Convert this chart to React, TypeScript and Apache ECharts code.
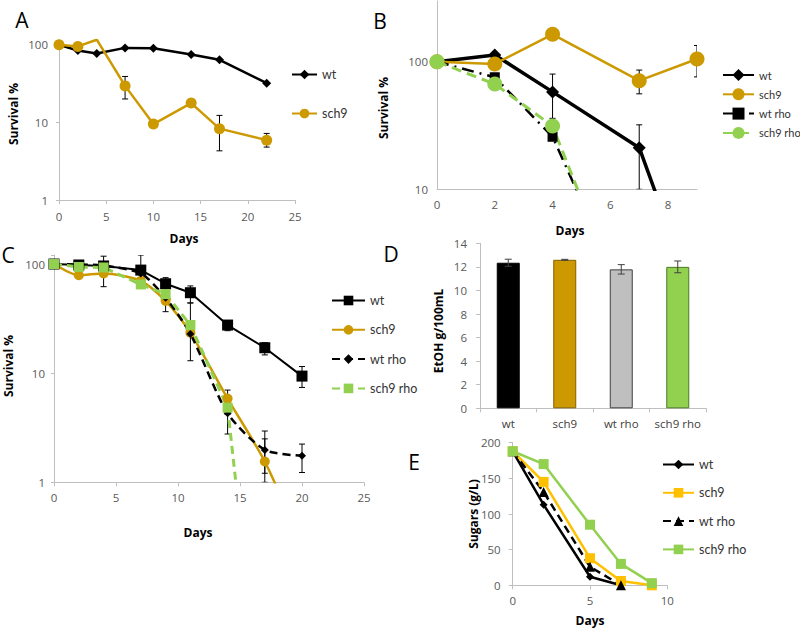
import React, { useEffect, useRef } from "react";
import * as echarts from "echarts";

// ---------- Panel A ----------
const daysA = [0, 2, 4, 7, 10, 14, 17, 22];
const wtA = [100, 84, 77, 91, 90, 75, 64, 32];
const sch9A = [100, 95, 116, 29.5, 9.5, 17.7, 8.3, 5.9];
const sch9AErr = [[2, 90, 101], [7, 20, 39], [17, 4.3, 12.3], [22, 4.8, 7.2]];

// ---------- Panel B ----------
const daysB = [0, 2, 4, 7, 9];
const wtB = [100, 113, 58, 21.2, 1.2];
const sch9B = [100, 96, 164, 71, 105];
const daysRhoB = [0, 2, 4, 7];
const wtRhoB = [100, 75.5, 25.8, 0.8];
const sch9RhoB = [100, 66.8, 31.3, 0.6];
const wtBErr = [[4, 36, 80], [7, 10, 32]];
const sch9BErr = [[7, 56, 86], [9, 76, 134]];
const wtRhoBErr = [[2, 72, 81]];

// ---------- Panel C ----------
const daysC = [0, 2, 4, 7, 9, 11, 14, 17, 20];
const wtC = [100, 98, 96, 88, 66, 54.6, 27.6, 17.1, 9.4];
const sch9C = [100, 79, 82, 70, 46, 23.5, 5.85, 1.55, 0.26];
const wtRhoC = [100, 99, 97, 82, 49, 22.9, 4.3, 1.98, 1.75];
const daysRhoC = [0, 2, 4, 7, 9, 11, 14, 17];
const sch9RhoC = [100, 94, 93, 65, 53, 27.6, 4.83, 0.004];
const wtCErr = [[7, 80, 121], [9, 57, 75], [11, 44, 63], [14, 24.5, 29.6], [17, 14.7, 19], [20, 7.4, 11.5]];
const sch9CErr = [[4, 62, 118], [9, 36.6, 52], [14, 4.2, 7.0], [17, 1.0, 2.5]];
const wtRhoCErr = [[2, 95, 105], [11, 13, 44], [14, 2.77, 5.7], [17, 1.21, 2.95], [20, 1.23, 2.24]];

// ---------- Panel D ----------
const strainsD = ["wt", "sch9", "wt rho", "sch9 rho"];
const etohD = [12.35, 12.6, 11.79, 12.0];
const etohErrD = [0.3, 0.04, 0.4, 0.5];

// ---------- Panel E ----------
const daysE = [0, 2, 5, 7, 9];
const wtE = [188, 113, 12, 0];
const sch9E = [188, 145, 38, 6, 0];
const wtRhoE = [188, 131, 26, 0];
const sch9RhoE = [188, 170, 85, 30, 3];

const GOLD = "#CC9900";
const AMBER = "#FFC000";
const GREEN = "#92D050";
const GRAY = "#BFBFBF";
const AXIS = "#BFBFBF";
const LABEL = "#595959";
const FONT = "'Open Sans', 'Liberation Sans', sans-serif";
const LFONT = "Lato";

const pairs = (xs: number[], ys: number[]) => ys.map((y, i) => [xs[i], y]);

function errSeries(gi: number, data: number[][], color = "#000", cap = 3) {
  return {
    type: "custom",
    xAxisIndex: gi,
    yAxisIndex: gi,
    data,
    clip: true,
    silent: true,
    z: 1,
    encode: { x: 0, y: [1, 2] },
    renderItem: (_p: any, api: any) => {
      const x = api.value(0);
      const lo = api.coord([x, api.value(1)]);
      const hi = api.coord([x, api.value(2)]);
      const style = { stroke: color, lineWidth: 1 };
      return {
        type: "group",
        children: [
          { type: "line", shape: { x1: lo[0], y1: lo[1], x2: hi[0], y2: hi[1] }, style },
          { type: "line", shape: { x1: lo[0] - cap, y1: lo[1], x2: lo[0] + cap, y2: lo[1] }, style },
          { type: "line", shape: { x1: hi[0] - cap, y1: hi[1], x2: hi[0] + cap, y2: hi[1] }, style },
        ],
      };
    },
  };
}

const labelStyle = { color: LABEL, fontFamily: FONT, fontSize: 11.5 };

function valueX(gi: number, min: number, max: number, interval: number, margin: number, showTick = true, extra: any = {}) {
  return {
    type: "value",
    gridIndex: gi,
    min,
    max,
    interval,
    splitLine: { show: false },
    axisLine: { show: true, lineStyle: { color: AXIS, width: 1 } },
    axisTick: { show: showTick, length: 4, lineStyle: { color: AXIS } },
    axisLabel: { ...labelStyle, margin },
    ...extra,
  };
}

function logY(gi: number, min: number, max: number, margin: number, showTick = true) {
  return {
    type: "log",
    logBase: 10,
    gridIndex: gi,
    min,
    max,
    splitLine: { show: false },
    axisLine: { show: true, lineStyle: { color: AXIS, width: 1 } },
    axisTick: { show: showTick, length: 3, lineStyle: { color: AXIS } },
    axisLabel: {
      ...labelStyle,
      margin,
      formatter: (v: number) => {
        const l = Math.log10(v);
        return Math.abs(l - Math.round(l)) < 1e-6 ? String(Math.round(v)) : "";
      },
    },
  };
}

function line(name: string, gi: number, data: number[][], color: string, width: number, symbol: string, size: number, extra: any = {}) {
  return {
    type: "line",
    name,
    xAxisIndex: gi,
    yAxisIndex: gi,
    data,
    clip: true,
    symbol,
    symbolSize: size,
    itemStyle: { color },
    lineStyle: { color, width, type: "solid" },
    z: 3,
    ...extra,
  };
}

const legendText = { color: "#333", fontFamily: LFONT, fontSize: 12.5 };
const legendFmt = (n: string) => n.split("@")[0];

function title(text: string, x: number, y: number, rotate = false, size = 12, bold = true) {
  return {
    type: "text",
    x,
    y,
    rotation: rotate ? Math.PI / 2 : 0,
    silent: true,
    style: {
      text,
      fill: "#000",
      font: `${bold ? "bold " : ""}${size}px ${FONT}`,
      textAlign: "center",
      textVerticalAlign: "middle",
    },
  };
}

export default function App() {
  const ref = useRef<HTMLDivElement>(null);
  useEffect(() => {
    if (!ref.current) return;
    const chart = echarts.init(ref.current, undefined, { renderer: "svg" });
    const option: any = {
      animation: false,
      backgroundColor: "#fff",
      grid: [
        { left: 59, top: 40, width: 236, height: 160 },
        { left: 437, top: 1, width: 260, height: 188.3 },
        { left: 54, top: 255, width: 310, height: 227.3 },
        { left: 480, top: 243.3, width: 226, height: 165 },
        { left: 512.7, top: 442.7, width: 154.6, height: 142.6 },
      ],
      xAxis: [
        valueX(0, 0, 25, 5, 10),
        valueX(1, 0, 9, 2, 9, false, { axisLabel: { ...labelStyle, margin: 9, showMaxLabel: false } }),
        valueX(2, 0, 25, 5, 9),
        {
          type: "category",
          gridIndex: 3,
          data: strainsD,
          axisLine: { show: true, lineStyle: { color: AXIS } },
          axisTick: { show: true, length: 4, lineStyle: { color: AXIS } },
          axisLabel: { ...labelStyle, margin: 9, color: "#404040", interval: 0 },
        },
        valueX(4, 0, 10, 5, 9),
      ],
      yAxis: [
        logY(0, 1, 115, 11),
        logY(1, 10, 299, 9, false),
        logY(2, 1, 121, 9),
        {
          type: "value",
          gridIndex: 3,
          min: 0,
          max: 14,
          interval: 2,
          splitLine: { show: false },
          axisLine: { show: true, lineStyle: { color: AXIS } },
          axisTick: { show: true, length: 4, lineStyle: { color: AXIS } },
          axisLabel: { ...labelStyle, margin: 13 },
        },
        {
          type: "value",
          gridIndex: 4,
          min: 0,
          max: 200,
          interval: 50,
          splitLine: { show: false },
          axisLine: { show: true, lineStyle: { color: AXIS } },
          axisTick: { show: true, length: 4, lineStyle: { color: AXIS } },
          axisLabel: { ...labelStyle, margin: 12 },
        },
      ],
      legend: [
        {
          data: ["wt@A", "sch9@A"],
          orient: "vertical", left: 286, top: 63, itemWidth: 25, itemHeight: 12, itemGap: 26,
          formatter: legendFmt, textStyle: legendText, selectedMode: false,
        },
        {
          data: ["wt@B", "sch9@B", "wt rho@B", "sch9 rho@B"],
          orient: "vertical", left: 717, top: 64, itemWidth: 31, itemHeight: 15, itemGap: 7.3,
          formatter: legendFmt, textStyle: { ...legendText, fontSize: 11 }, selectedMode: false,
        },
        {
          data: ["wt@C", "sch9@C", "wt rho@C", "sch9 rho@C"],
          orient: "vertical", left: 326, top: 289, itemWidth: 33, itemHeight: 12, itemGap: 16.3,
          formatter: legendFmt, textStyle: legendText, selectedMode: false,
        },
        {
          data: ["wt@E", "sch9@E", "wt rho@E", "sch9 rho@E"],
          orient: "vertical", left: 657, top: 453, itemWidth: 31, itemHeight: 12, itemGap: 15.3,
          formatter: legendFmt, textStyle: legendText, selectedMode: false,
        },
      ],
      series: [
        // A
        errSeries(0, sch9AErr),
        line("wt@A", 0, pairs(daysA, wtA), "#000", 2.5, "diamond", 9),
        line("sch9@A", 0, pairs(daysA, sch9A), GOLD, 2.5, "circle", 11),
        // B
        errSeries(1, wtBErr),
        errSeries(1, sch9BErr),
        errSeries(1, wtRhoBErr),
        line("wt@B", 1, pairs(daysB, wtB), "#000", 3.5, "diamond", 13),
        line("sch9@B", 1, pairs(daysB, sch9B), GOLD, 2.5, "circle", 15),
        line("wt rho@B", 1, pairs(daysRhoB, wtRhoB), "#000", 2.5, "rect", 10, {
          lineStyle: { color: "#000", width: 2.5, type: [12, 6, 2, 6] },
        }),
        line("sch9 rho@B", 1, pairs(daysRhoB, sch9RhoB), GREEN, 3, "circle", 15, {
          lineStyle: { color: GREEN, width: 3, type: [10, 6] },
        }),
        // C
        errSeries(2, wtCErr),
        errSeries(2, sch9CErr),
        errSeries(2, wtRhoCErr),
        line("wt@C", 2, pairs(daysC, wtC), "#000", 2, "rect", 11),
        line("sch9@C", 2, pairs(daysC, sch9C), GOLD, 2.5, "circle", 10, { smooth: 0.25 }),
        line("wt rho@C", 2, pairs(daysC, wtRhoC), "#000", 2.5, "diamond", 8, {
          smooth: 0.25,
          lineStyle: { color: "#000", width: 2.5, type: [8, 5] },
        }),
        line("sch9 rho@C", 2, pairs(daysRhoC, sch9RhoC), GREEN, 3, "rect", 10, {
          lineStyle: { color: GREEN, width: 3, type: [8, 5] },
        }),
        // D
        {
          type: "bar",
          xAxisIndex: 3,
          yAxisIndex: 3,
          barWidth: 23,
          data: etohD.map((v, i) => ({
            value: v,
            itemStyle: {
              color: ["#000000", GOLD, GRAY, GREEN][i],
              borderColor: ["#000000", "#7F6000", "#404040", "#4E7A27"][i],
              borderWidth: 1,
            },
          })),
        },
        {
          ...errSeries(3, etohD.map((v, i) => [i, v - etohErrD[i], v + etohErrD[i]]), "#404040", 3.5),
          z: 5,
        },
        // E
        line("wt@E", 4, pairs(daysE, wtE), "#000", 2.5, "diamond", 8),
        line("sch9@E", 4, pairs(daysE, sch9E), AMBER, 2.5, "rect", 10),
        line("wt rho@E", 4, pairs(daysE, wtRhoE), "#000", 2.5, "triangle", 10, {
          lineStyle: { color: "#000", width: 2.5, type: [8, 5] },
        }),
        line("sch9 rho@E", 4, pairs(daysE, sch9RhoE), GREEN, 2.5, "rect", 10),
      ],
      graphic: [
        title("A", 22, 20, false, 21, false),
        title("B", 380, 21, false, 21, false),
        title("C", 8, 255, false, 21, false),
        title("D", 391, 254, false, 21, false),
        title("E", 414, 462, false, 21, false),
        title("Survival %", 13, 114, true),
        title("Days", 184, 238),
        title("Survival %", 383, 108, true),
        title("Days", 570, 230),
        title("Survival %", 8, 366, true),
        title("Days", 198, 532),
        title("EtOH g/100mL", 438, 331, true),
        title("Sugars (g/L)", 473, 514, true),
        title("Days", 590, 620),
      ],
    };
    chart.setOption(option);
    return () => chart.dispose();
  }, []);
  return (
    <div
      ref={ref}
      style={{ position: "absolute", left: 0, top: 0, width: 800, height: 628, background: "#fff" }}
    />
  );
}
